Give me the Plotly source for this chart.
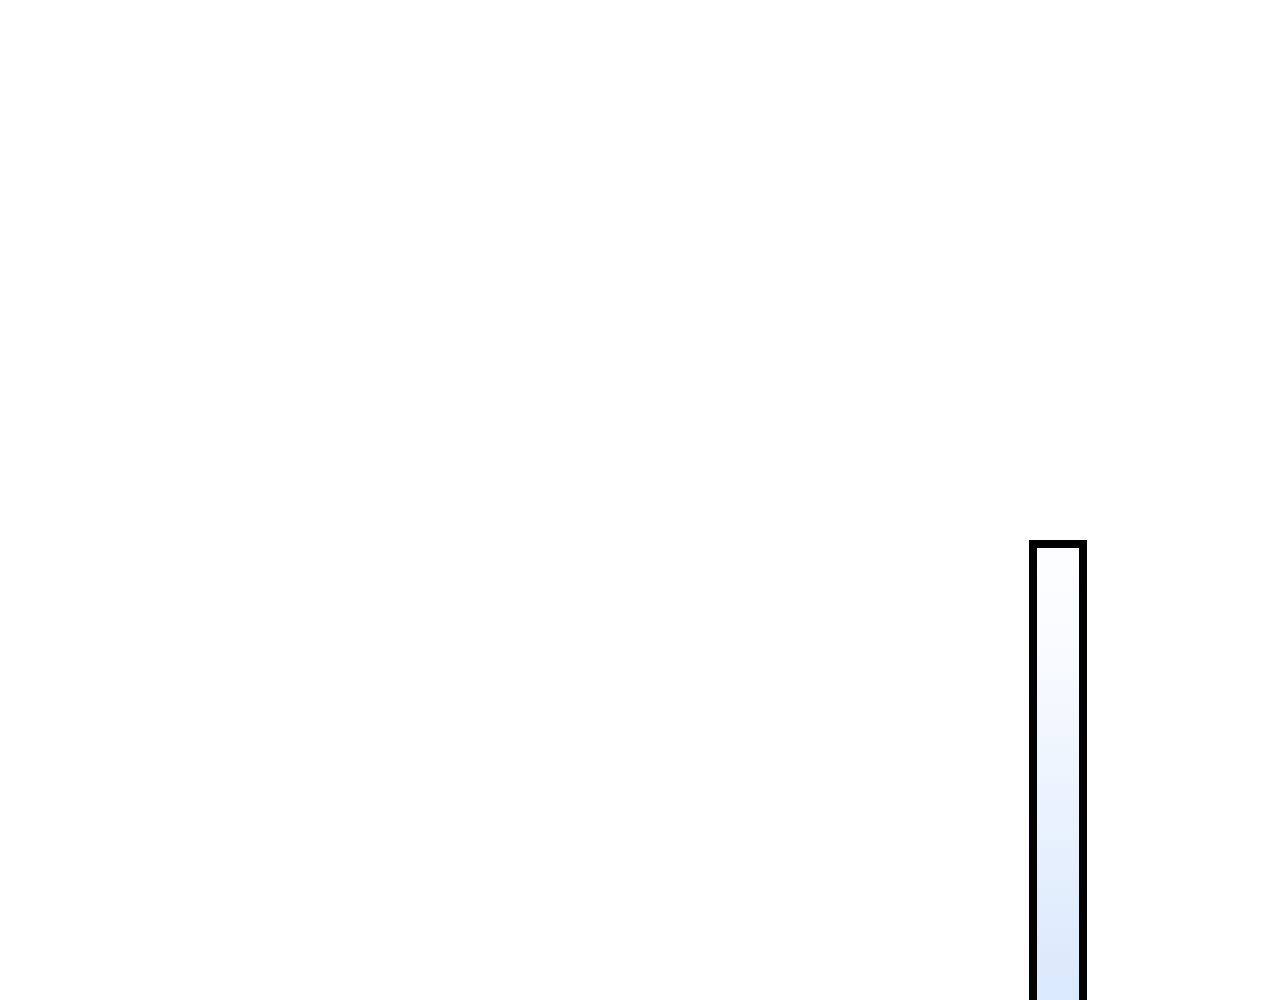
import plotly.graph_objects as go

# colour values shown by the bar (only the top, light end is in view)
values = [0, 1]
scale_stops = [0.0, 0.5, 0.8, 1.0]
scale_colors = ['#d6e6fc', '#ebf3fe', '#f9fbff', '#fdfdfe']

colorscale = [[s, c] for s, c in zip(scale_stops, scale_colors)]

fig = go.Figure()
fig.add_trace(go.Scatter(
    x=[None, None], y=[None, None],
    mode='markers',
    marker=dict(
        color=values,
        colorscale=colorscale,
        cmin=min(values), cmax=max(values),
        showscale=True,
        colorbar=dict(
            xref='container', yref='container',
            x=1025 / 1280, xanchor='left',
            y=1 - 536 / 1000, yanchor='top',
            xpad=0, ypad=0,
            thickness=50,
            len=500, lenmode='pixels',
            outlinewidth=8, outlinecolor='black',
            showticklabels=False, ticks='',
        ),
    ),
    hoverinfo='skip',
    showlegend=False,
))

fig.update_layout(
    width=1280, height=1000,
    paper_bgcolor='white', plot_bgcolor='white',
    margin=dict(l=0, r=0, t=0, b=0),
    xaxis=dict(visible=False),
    yaxis=dict(visible=False),
)

fig.write_html("out.html")
